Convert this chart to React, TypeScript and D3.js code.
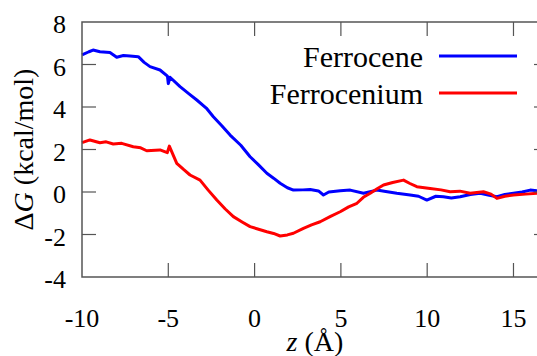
import * as d3 from 'd3';

// Ferrocene (blue) free-energy profile
const ferroceneZ = [-10, -9.6, -9.36, -8.96, -8.38, -7.99, -7.6, -7.22, -6.74, -6.4, -6.06, -5.48, -5.05, -5.0, -4.9, -4.32, -3.8, -3.35, -2.8, -2.39, -1.9, -1.42, -0.8, -0.26, 0.2, 0.71, 1.1, 1.48, 1.9, 2.25, 2.8, 3.22, 3.7, 3.99, 4.3, 4.96, 5.54, 6.31, 7.08, 7.6, 8.24, 9.01, 9.5, 9.98, 10.5, 10.94, 11.4, 11.91, 12.5, 13.07, 13.6, 14.04, 14.5, 15.0, 15.5, 15.97, 16.5, 17];
const ferroceneG = [6.45, 6.6, 6.68, 6.6, 6.56, 6.34, 6.42, 6.4, 6.37, 6.1, 5.9, 5.74, 5.45, 5.1, 5.4, 4.96, 4.62, 4.33, 3.95, 3.54, 3.12, 2.68, 2.2, 1.66, 1.3, 0.88, 0.65, 0.41, 0.2, 0.09, 0.1, 0.12, 0.05, -0.14, 0.0, 0.06, 0.09, -0.06, 0.09, 0.02, -0.06, -0.14, -0.2, -0.38, -0.2, -0.22, -0.28, -0.22, -0.12, -0.06, -0.15, -0.22, -0.12, -0.06, 0.0, 0.09, 0.05, 0.01];

// Ferrocenium (red)
const ferroceniumZ = [-10, -9.54, -8.96, -8.6, -8.19, -7.7, -7.03, -6.6, -6.25, -5.48, -5.06, -4.94, -4.51, -4.1, -3.74, -3.16, -2.7, -2.19, -1.7, -1.23, -0.7, -0.26, 0.71, 1.1, 1.48, 1.9, 2.25, 2.83, 3.3, 3.8, 4.4, 4.96, 5.45, 5.93, 6.3, 6.7, 7.1, 7.47, 8.0, 8.63, 9.0, 9.4, 10.17, 10.8, 11.33, 11.9, 12.49, 13.26, 13.7, 14.04, 14.5, 15.0, 15.7, 16.36, 17];
const ferroceniumG = [2.32, 2.45, 2.32, 2.36, 2.26, 2.29, 2.13, 2.08, 1.94, 1.98, 1.85, 2.16, 1.35, 1.05, 0.8, 0.56, 0.1, -0.38, -0.8, -1.16, -1.42, -1.63, -1.87, -1.95, -2.07, -2.02, -1.94, -1.71, -1.55, -1.4, -1.15, -0.93, -0.7, -0.53, -0.25, -0.06, 0.15, 0.33, 0.45, 0.56, 0.4, 0.25, 0.17, 0.1, 0.01, 0.04, -0.06, 0.01, -0.1, -0.3, -0.2, -0.14, -0.1, -0.06, -0.04];

const xTicks = [-10, -5, 0, 5, 10, 15];
const yTicks = [-4, -2, 0, 2, 4, 6, 8];

const series = [
  { name: 'Ferrocene', z: ferroceneZ, g: ferroceneG, color: '#0000ff' },
  { name: 'Ferrocenium', z: ferroceniumZ, g: ferroceniumG, color: '#ff0000' },
];

const W = 537;
const H = 356;
const margin = { left: 82, top: 22, right: 548, bottom: 277 };
const font = "'Liberation Serif', 'Times New Roman', Times, 'Noto Serif', 'DejaVu Serif', FreeSerif, Tinos, serif";
const axisColor = '#555';
const tickLen = 14;

export default function App() {
  const x = d3.scaleLinear().domain([-10, 17]).range([margin.left, margin.right]);
  const y = d3.scaleLinear().domain([-4, 8]).range([margin.bottom, margin.top]);

  const line = d3
    .line<[number, number]>()
    .x(d => x(d[0]))
    .y(d => y(d[1]));

  const txt = (size: number) => ({ fontFamily: font, fontSize: size + 'px', fill: '#000' });

  return (
    <div style={{ position: 'absolute', left: 0, top: 0 }}>
      <svg width={W} height={H} style={{ display: 'block', background: '#fff' }}>
        {series.map(s => (
          <path
            key={s.name}
            d={line(s.z.map((z, i) => [z, s.g[i]] as [number, number])) || ''}
            fill="none"
            stroke={s.color}
            strokeWidth={3}
            strokeLinejoin="round"
          />
        ))}

        {/* frame */}
        <rect
          x={margin.left}
          y={margin.top}
          width={margin.right - margin.left}
          height={margin.bottom - margin.top}
          fill="none"
          stroke={axisColor}
          strokeWidth={1.5}
        />

        {/* x ticks, bottom and top */}
        {xTicks.map(t => (
          <g key={'x' + t}>
            {t !== -10 && (
              <>
                <line x1={x(t)} x2={x(t)} y1={margin.bottom} y2={margin.bottom - tickLen} stroke={axisColor} strokeWidth={1.2} />
                <line x1={x(t)} x2={x(t)} y1={margin.top} y2={margin.top + tickLen} stroke={axisColor} strokeWidth={1.2} />
              </>
            )}
            <text x={x(t)} y={327} textAnchor="middle" style={txt(26)}>
              {t}
            </text>
          </g>
        ))}

        {/* y ticks, left and right */}
        {yTicks.map(t => (
          <g key={'y' + t}>
            {t !== -4 && t !== 8 && (
              <>
                <line x1={margin.left} x2={margin.left + tickLen} y1={y(t)} y2={y(t)} stroke={axisColor} strokeWidth={1.2} />
                <line x1={margin.right} x2={margin.right - tickLen} y1={y(t)} y2={y(t)} stroke={axisColor} strokeWidth={1.2} />
              </>
            )}
            <text x={66} y={y(t) + 11} textAnchor="end" style={txt(26)}>
              {t}
            </text>
          </g>
        ))}

        {/* axis labels */}
        <text x={315} y={351} textAnchor="middle" style={txt(28)}>
          <tspan fontStyle="italic">z</tspan> (Å)
        </text>
        <text
          transform={`translate(33,${(margin.top + margin.bottom) / 2}) rotate(-90)`}
          textAnchor="middle"
          style={txt(28)}
        >
          Δ<tspan fontStyle="italic">G</tspan> (kcal/mol)
        </text>

        {/* legend */}
        {series.map((s, i) => (
          <g key={'leg' + s.name}>
            <text x={423} y={67 + i * 37} textAnchor="end" style={txt(30)}>
              {s.name}
            </text>
            <line x1={439} x2={517} y1={56 + i * 37} y2={56 + i * 37} stroke={s.color} strokeWidth={3} />
          </g>
        ))}
      </svg>
    </div>
  );
}
